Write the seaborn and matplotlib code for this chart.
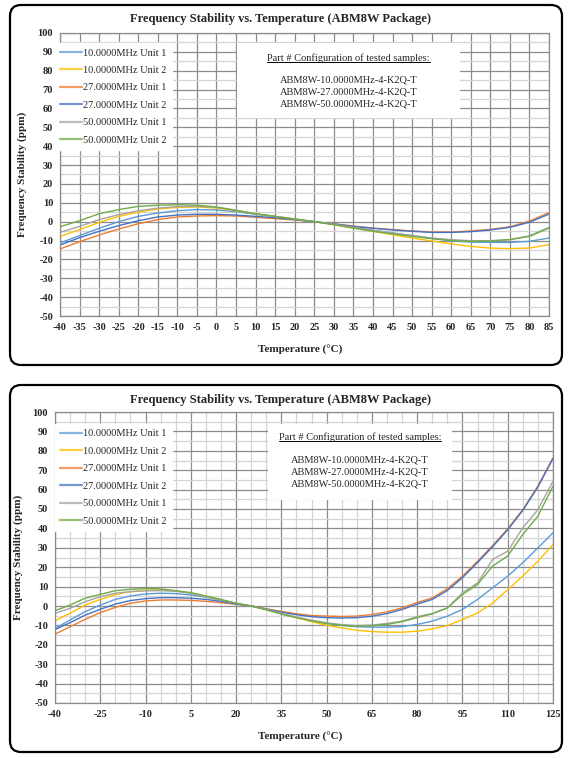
import pandas as pd
import seaborn as sns
import matplotlib.pyplot as plt
from matplotlib.patches import FancyBboxPatch, Rectangle
from matplotlib.lines import Line2D
from matplotlib.transforms import IdentityTransform
from matplotlib.ticker import MultipleLocator, FixedLocator

# ---- data ----
series_names = ["10.0000MHz Unit 1", "10.0000MHz Unit 2", "27.0000MHz Unit 1",
                "27.0000MHz Unit 2", "50.0000MHz Unit 1", "50.0000MHz Unit 2"]
series_colors = ["#5B9BD5", "#FFC000", "#ED7D31", "#4472C4", "#A5A5A5", "#70AD47"]

part_numbers = ["ABM8W-10.0000MHz-4-K2Q-T", "ABM8W-27.0000MHz-4-K2Q-T",
                "ABM8W-50.0000MHz-4-K2Q-T"]

# top chart: -40 .. 85 C, 5 C steps
temps_top = list(range(-40, 90, 5))
xticks_top = list(range(-40, 90, 5))
top_10u1 = [-11.3, -7.4, -3.5, 0.0, 2.8, 4.6, 5.8, 6.4, 6.2, 5.3, 3.9, 2.7, 1.2,
            0.0, -1.4, -3.0, -4.6, -6.0, -7.4, -8.8, -10.1, -10.8, -11.0, -11.0, -10.4, -8.7]
top_10u2 = [-7.8, -4.2, -0.4, 2.8, 5.1, 6.7, 7.6, 7.8, 7.2, 5.8, 4.2, 2.8, 1.4,
            0.0, -1.6, -3.4, -5.1, -6.9, -8.7, -10.2, -11.8, -13.1, -14.0, -14.3, -14.0, -12.2]
top_27u1 = [-14.5, -10.6, -7.1, -3.9, -1.1, 1.1, 2.5, 3.0, 3.2, 3.0, 2.3, 1.6, 0.9,
            0.0, -1.1, -2.3, -3.4, -4.2, -4.9, -5.5, -5.5, -4.9, -4.1, -2.7, 0.3, 4.8]
top_27u2 = [-12.4, -8.5, -5.1, -2.1, 0.5, 2.5, 3.5, 3.9, 3.9, 3.5, 2.8, 2.1, 1.1,
            0.0, -1.2, -2.5, -3.5, -4.4, -5.1, -5.7, -5.7, -5.3, -4.4, -3.0, -0.3, 4.0]
top_50u1 = [-5.7, -2.5, 1.1, 3.7, 5.8, 7.2, 8.0, 8.1, 7.6, 6.0, 4.2, 2.8, 1.4,
            0.0, -1.4, -3.0, -4.6, -6.0, -7.4, -8.7, -9.5, -10.1, -10.1, -9.5, -7.5, -3.0]
top_50u2 = [-2.7, 0.5, 4.2, 6.4, 8.1, 8.7, 9.0, 8.7, 7.8, 6.0, 4.1, 2.8, 1.4,
            0.0, -1.6, -3.4, -5.1, -6.5, -7.8, -9.0, -10.0, -10.4, -10.2, -9.5, -7.8, -3.4]

# bottom chart: -40 .. 125 C, 5 C steps
temps_bot = list(range(-40, 130, 5))
xticks_bot = list(range(-40, 130, 15))
bot_10u1 = [-11.6, -7.2, -2.9, 0.5, 3.4, 5.2, 6.2, 6.6, 6.4, 5.7, 4.5, 3.1, 1.4, 0.0,
            -1.8, -4.0, -5.9, -7.6, -9.0, -10.0, -10.7, -10.9, -10.9, -10.6, -9.5, -7.8,
            -5.2, -1.8, 3.4, 9.4, 15.4, 22.3, 30.0, 37.7]
bot_10u2 = [-7.6, -3.8, 0.5, 3.4, 5.9, 7.4, 8.1, 8.3, 7.8, 6.6, 4.8, 3.1, 1.4, 0.0,
            -1.8, -4.0, -6.0, -8.1, -9.9, -11.3, -12.5, -13.2, -13.5, -13.5, -13.0, -11.8,
            -10.1, -7.0, -3.6, 1.5, 8.4, 15.4, 23.1, 31.7]
bot_27u1 = [-14.5, -10.7, -6.9, -3.4, -0.7, 1.4, 2.6, 3.1, 3.1, 2.9, 2.4, 1.7, 0.9, 0.0,
            -1.4, -2.8, -4.0, -4.9, -5.2, -5.4, -5.2, -4.4, -3.0, -1.0, 1.8, 4.2,
            8.9, 15.4, 23.1, 31.2, 39.8, 49.7, 61.8, 76.4]
bot_27u2 = [-12.1, -8.6, -4.7, -1.7, 1.0, 2.8, 3.8, 4.3, 4.3, 4.0, 3.4, 2.4, 1.0, 0.0,
            -1.6, -3.2, -4.5, -5.5, -6.0, -6.2, -6.0, -5.3, -3.9, -1.8, 1.0, 3.4,
            8.0, 14.6, 22.4, 30.6, 39.3, 49.3, 61.4, 76.0]
bot_50u1 = [-3.8, -1.2, 2.2, 4.8, 6.6, 7.4, 7.8, 7.9, 7.6, 6.6, 4.8, 3.1, 1.4, 0.0,
            -1.8, -3.8, -5.7, -7.3, -8.7, -9.6, -10.1, -9.8, -9.0, -7.8, -5.5, -3.9,
            -1.0, 6.8, 11.9, 24.0, 28.3, 40.3, 49.7, 64.3]
bot_50u2 = [-2.4, 0.5, 4.0, 6.0, 7.9, 8.6, 9.0, 8.8, 7.9, 6.9, 5.2, 3.4, 1.4, 0.0,
            -2.0, -4.2, -6.0, -7.7, -9.0, -9.9, -10.4, -10.2, -9.5, -8.1, -6.0, -4.0,
            -1.0, 5.9, 11.1, 20.6, 25.8, 36.9, 46.3, 61.8]

top_series = [top_10u1, top_10u2, top_27u1, top_27u2, top_50u1, top_50u2]
bot_series = [bot_10u1, bot_10u2, bot_27u1, bot_27u2, bot_50u1, bot_50u2]


def long_frame(temps, all_values):
    rows = []
    for name, vals in zip(series_names, all_values):
        for t, v in zip(temps, vals):
            rows.append({"temp": t, "ppm": v, "series": name})
    return pd.DataFrame(rows)


df_top = long_frame(temps_top, top_series)
df_bot = long_frame(temps_bot, bot_series)
palette = dict(zip(series_names, series_colors))

sns.set_style("white")
plt.rcParams["font.family"] = ["Liberation Serif", "DejaVu Serif"]
plt.rcParams["axes.unicode_minus"] = False

W, H = 572, 758
fig = plt.figure(figsize=(W / 100, H / 100), dpi=100)


def fx(px):
    return px / W


def fy(py):
    return 1 - py / H


def axes_rect(left, top, right, bottom):
    return [fx(left), fy(bottom), (right - left) / W, (bottom - top) / H]


def draw_panel(df, rect, xmax, xticks, box, title_y, ylab_x, xlab_y,
               leg_anchor, tbox, text_rows):
    # rounded border of the chart area (pixel coords)
    x0, y0, x1, y1 = box
    fig.patches.append(FancyBboxPatch(
        (x0, H - y1), x1 - x0, y1 - y0, boxstyle="round,pad=0,rounding_size=11",
        transform=IdentityTransform(), facecolor="white", edgecolor="black",
        linewidth=1.6, zorder=-5))

    ax = fig.add_axes(axes_rect(*rect))
    ax.set_facecolor("white")
    sns.lineplot(data=df, x="temp", y="ppm", hue="series", hue_order=series_names,
                 palette=palette, ax=ax, linewidth=1.0, estimator=None, sort=False)

    ax.set_xlim(-40, xmax)
    ax.set_ylim(-50, 100)
    ax.xaxis.set_major_locator(FixedLocator(xticks))
    ax.xaxis.set_minor_locator(MultipleLocator(5))
    ax.yaxis.set_major_locator(MultipleLocator(10))
    ax.yaxis.set_minor_locator(MultipleLocator(5))
    ax.grid(which="minor", color="#d4d4d4", linewidth=0.9)
    ax.grid(which="major", color="#8c8c8c", linewidth=0.9)
    ax.set_axisbelow(True)
    ax.tick_params(which="both", length=0, labelsize=7.5, pad=5)
    for lab in ax.get_xticklabels() + ax.get_yticklabels():
        lab.set_fontweight("bold")
    for sp in ax.spines.values():
        sp.set_color("#8c8c8c")
        sp.set_linewidth(0.9)
    ax.set_xlabel("")
    ax.set_ylabel("")

    handles, labels = ax.get_legend_handles_labels()
    leg = ax.legend(handles, labels, loc="upper left",
                    bbox_to_anchor=(fx(leg_anchor[0]), fy(leg_anchor[1])),
                    bbox_transform=fig.transFigure, frameon=True, fancybox=False,
                    framealpha=1, facecolor="white", edgecolor="white",
                    fontsize=7.5, labelspacing=0.78, handlelength=2.1,
                    handletextpad=0.1, borderpad=0.5, borderaxespad=0)
    for line in leg.get_lines():
        line.set_linewidth(1.6)
        line.set_alpha(0.75)

    # title and axis labels
    fig.text(fx(281), fy(title_y), "Frequency Stability vs. Temperature (ABM8W Package)",
             ha="center", va="center", fontsize=9, fontweight="bold")
    fig.text(fx(ylab_x), fy((rect[1] + rect[3]) / 2), "Frequency Stability (ppm)",
             rotation=90, ha="center", va="center", fontsize=8, fontweight="bold")
    fig.text(fx(300), fy(xlab_y), "Temperature (°C)", ha="center", va="center",
             fontsize=8, fontweight="bold")

    # part number box
    bx0, by0, bx1, by1 = tbox
    fig.patches.append(Rectangle((fx(bx0), fy(by1)), (bx1 - bx0) / W, (by1 - by0) / H,
                                 transform=fig.transFigure, facecolor="white",
                                 edgecolor="none", zorder=5))
    cx = (bx0 + bx1) / 2
    head = fig.text(fx(cx), fy(text_rows[0]), "Part # Configuration of tested samples:",
                    ha="center", va="center", fontsize=7.5, zorder=6)
    for pn, ry in zip(part_numbers, text_rows[1:]):
        fig.text(fx(cx), fy(ry), pn, ha="center", va="center", fontsize=7.5, zorder=6)
    return head


head_top = draw_panel(df_top, (60, 33, 549, 316), 85, xticks_top, (10, 5, 562, 365),
                      19, 22, 350, (55, 43), (237, 43, 460, 118), (58, 80, 92, 104))
head_bot = draw_panel(df_bot, (55, 412, 553, 703), 125, xticks_bot, (10, 385, 562, 752),
                      400, 18, 737, (55, 424), (268, 424, 452, 500), (437, 460, 472, 484))

# underline the "Part #" headings
fig.canvas.draw()
renderer = fig.canvas.get_renderer()
for head in (head_top, head_bot):
    bb = head.get_window_extent(renderer)
    fig.add_artist(Line2D([bb.x0, bb.x1], [bb.y0 + 1, bb.y0 + 1],
                          transform=IdentityTransform(), color="black",
                          linewidth=0.7, zorder=7))

fig.savefig("out.png", dpi=100)
